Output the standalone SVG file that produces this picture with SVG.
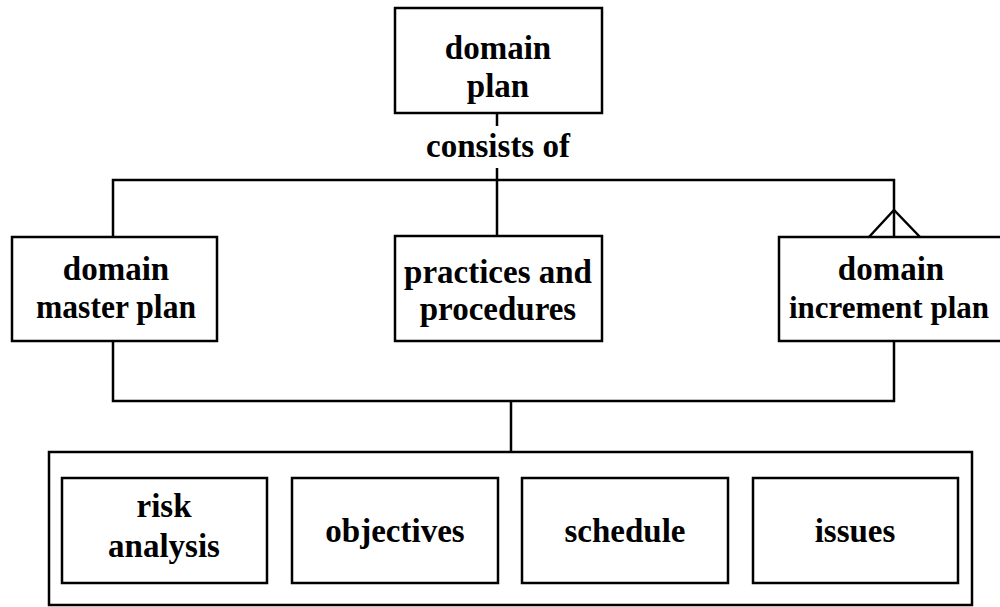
<svg xmlns="http://www.w3.org/2000/svg" width="1000" height="607" viewBox="0 0 1000 607">
  <style>
    .box { fill: #fff; stroke: #000; stroke-width: 2.5; }
    .wire { fill: none; stroke: #000; stroke-width: 2.5; }
    .lbl { font-family: "Liberation Serif", "Times New Roman", serif; font-weight: bold; font-size: 33px; fill: #000; text-anchor: middle; }
  </style>
  <rect width="1000" height="607" fill="#fff"/>

  <!-- connectors -->
  <g id="connectors">
    <!-- domain plan to its parts -->
    <path class="wire" d="M497 113 V126 M497 168 V236"/>
    <path class="wire" d="M113 237 V180 H894 V237"/>
    <!-- many-end marker on the increment plan -->
    <path class="wire" d="M869 237 L894 210 L920 237"/>
    <!-- plans to the shared content -->
    <path class="wire" d="M113 341 V401 H894 V341"/>
    <path class="wire" d="M511 401 V452"/>
  </g>

  <g id="domain-plan">
    <rect class="box" x="395" y="8" width="207" height="105"/>
    <text class="lbl" x="498" y="59">domain</text>
    <text class="lbl" x="498" y="97">plan</text>
  </g>

  <text id="consists-of" class="lbl" x="498" y="157">consists of</text>

  <g id="domain-master-plan">
    <rect class="box" x="12" y="237" width="205" height="104"/>
    <text class="lbl" x="116" y="280">domain</text>
    <text class="lbl" x="116" y="318" textLength="160" lengthAdjust="spacingAndGlyphs">master plan</text>
  </g>

  <g id="practices-and-procedures">
    <rect class="box" x="395" y="236" width="207" height="105"/>
    <text class="lbl" x="498" y="283">practices and</text>
    <text class="lbl" x="498" y="320">procedures</text>
  </g>

  <g id="domain-increment-plan">
    <!-- the box runs on past the right border -->
    <path class="box" d="M1002 237 H779 V341 H1002"/>
    <text class="lbl" x="891" y="280">domain</text>
    <text class="lbl" x="889" y="318" style="font-size:31px">increment plan</text>
  </g>

  <g id="plan-contents">
    <rect class="box" x="49" y="452" width="923" height="153"/>
  </g>

  <g id="risk-analysis">
    <rect class="box" x="62" y="478" width="205" height="105"/>
    <text class="lbl" x="164" y="517">risk</text>
    <text class="lbl" x="164" y="557">analysis</text>
  </g>

  <g id="objectives">
    <rect class="box" x="292" y="478" width="206" height="105"/>
    <text class="lbl" x="395" y="542">objectives</text>
  </g>

  <g id="schedule">
    <rect class="box" x="522" y="478" width="206" height="105"/>
    <text class="lbl" x="625" y="542">schedule</text>
  </g>

  <g id="issues">
    <rect class="box" x="753" y="478" width="205" height="105"/>
    <text class="lbl" x="855" y="542">issues</text>
  </g>
</svg>
